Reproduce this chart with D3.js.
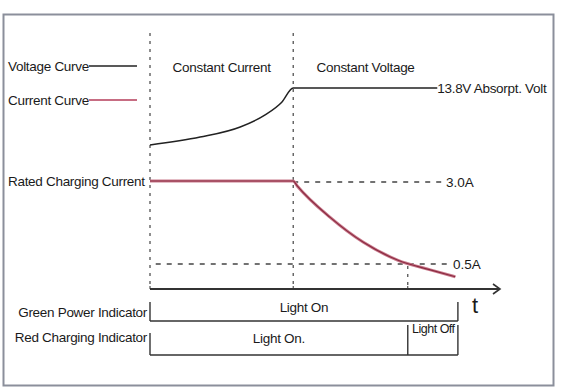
<!DOCTYPE html>
<html><head><meta charset="utf-8">
<script src="https://cdn.jsdelivr.net/npm/d3@7/dist/d3.min.js"></script>
<style>body{margin:0;background:#fff}svg{display:block}text{font-family:"Liberation Sans",Arial,sans-serif;fill:#1a1a1a}</style>
</head><body><svg id="c" width="563" height="390"></svg>
<script>
const phaseLabels = ["Constant Current", "Constant Voltage"];
const phaseBounds = [0, 5, 10.75];
const legendLabels = ["Voltage Curve", "Current Curve"];
const voltageT = [0, 1.75, 3.15, 4.02, 4.6, 5.0, 10.03];
const voltageV = [12.0, 12.25, 12.57, 12.95, 13.35, 13.8, 13.8];
const voltageLabel = "13.8V Absorpt. Volt";
const currentT = [0, 5.0, 5.14, 6.29, 7.45, 8.64, 9.79, 10.66];
const currentA = [3.0, 3.0, 2.85, 1.89, 1.13, 0.59, 0.29, 0.08];
const ratedLabel = "Rated Charging Current";
const refLabels = ["3.0A", "0.5A"];
const refValues = [3.0, 0.5];
const refStart = [5, 0.2];
const indicatorNames = ["Green Power Indicator", "Red Charging Indicator"];
const greenSegStart = [0];
const greenSegEnd = [10.75];
const greenSegLabel = ["Light On"];
const redSegStart = [0, 9];
const redSegEnd = [9, 10.75];
const redSegLabel = ["Light On.", "Light Off"];
const ticksT = [0, 5, 9];

const svg = d3.select("#c");
const x = d3.scaleLinear().domain([0, 12.22]).range([150, 500]);
const yV = d3.scaleLinear().domain([12.0, 13.8]).range([145, 88]);
const yI = d3.scaleLinear().domain([0.5, 3.0]).range([263, 181]);
const axisY = 289;
const ink = "#222", red = "#b53c5a", dashC = "#444";
const FS = 13.5, LS = -0.3;

svg.append("defs").append("clipPath").attr("id","clip")
  .append("rect").attr("x",4).attr("y",15).attr("width",548).attr("height",370);
const g = svg.append("g").attr("clip-path","url(#clip)");

// border
svg.append("rect").attr("x",3.5).attr("y",14.5).attr("width",550).attr("height",371)
  .attr("fill","none").attr("stroke","#8b8f9b").attr("stroke-width",2);

// vertical phase dashed lines
[0, 5].forEach(t => {
  g.append("line").attr("x1",x(t)).attr("x2",x(t)).attr("y1",33).attr("y2",axisY)
    .attr("stroke",dashC).attr("stroke-width",1.2).attr("stroke-dasharray","3,5");
});
g.append("line").attr("x1",x(9)).attr("x2",x(9)).attr("y1",266).attr("y2",axisY)
  .attr("stroke",dashC).attr("stroke-width",1.2).attr("stroke-dasharray","3,5");

// phase labels
phaseLabels.forEach((l,i) => {
  g.append("text").attr("x",(x(phaseBounds[i])+x(phaseBounds[i+1]))/2 - (i===1?10:0)).attr("y",72)
    .attr("text-anchor","middle").attr("font-size",FS).attr("letter-spacing",LS).text(l);
});

// legend
const legY = [66, 100];
legendLabels.forEach((l,i) => {
  const t = g.append("text").attr("x",8).attr("y",legY[i]+4.5).attr("font-size",FS).attr("letter-spacing",LS).text(l);
  const w = t.node().getComputedTextLength();
  g.append("line").attr("x1",8+w).attr("x2",137).attr("y1",legY[i]).attr("y2",legY[i])
    .attr("stroke", i===0?ink:red).attr("stroke-width",1.4);
});

// reference dashed lines
refValues.forEach((v,i) => {
  const xe = i===0 ? 443 : 450;
  g.append("line").attr("x1",x(refStart[i])).attr("x2",xe).attr("y1",yI(v)+1).attr("y2",yI(v)+1)
    .attr("stroke",dashC).attr("stroke-width",1.3).attr("stroke-dasharray","5,6");
  g.append("text").attr("x",xe+3).attr("y",yI(v)+5.5).attr("font-size",FS).text(refLabels[i]);
});

// voltage curve
const vData = voltageT.map((t,i)=>[t, voltageV[i]]);
g.append("path").datum(vData)
  .attr("d", d3.line().x(d=>x(d[0])).y(d=>yV(d[1])).curve(d3.curveMonotoneX))
  .attr("fill","none").attr("stroke",ink).attr("stroke-width",1.5);
g.append("text").attr("x",x(voltageT[voltageT.length-1])).attr("y",yV(13.8)+5)
  .attr("font-size",FS).attr("letter-spacing",LS).text(voltageLabel);

// current curve
const iData = currentT.map((t,i)=>[t, currentA[i]]);
g.append("path").datum(iData)
  .attr("d", d3.line().x(d=>x(d[0])).y(d=>yI(d[1])).curve(d3.curveMonotoneX))
  .attr("fill","none").attr("stroke","#c97a8c").attr("stroke-width",3);
g.append("path").datum(iData)
  .attr("d", d3.line().x(d=>x(d[0])).y(d=>yI(d[1])).curve(d3.curveMonotoneX))
  .attr("fill","none").attr("stroke","#8a2a40").attr("stroke-width",1.2);
g.append("text").attr("x",8).attr("y",yI(3.0)+4.5).attr("font-size",FS).attr("letter-spacing",LS).text(ratedLabel);

// time axis
g.append("line").attr("x1",x(0)).attr("x2",x(12.22)).attr("y1",axisY).attr("y2",axisY)
  .attr("stroke","#333").attr("stroke-width",2);
g.append("path").attr("d",`M${x(12.22)-7},${axisY-5}L${x(12.22)},${axisY}L${x(12.22)-7},${axisY+5}`)
  .attr("fill","none").attr("stroke","#333").attr("stroke-width",1.6);
ticksT.forEach(t => g.append("line").attr("x1",x(t)).attr("x2",x(t)).attr("y1",axisY-3).attr("y2",axisY)
  .attr("stroke","#333").attr("stroke-width",1));
g.append("text").attr("x",472).attr("y",313).attr("font-size",22).attr("font-family","DejaVu Serif")
  .attr("fill","#333").text("t");

// indicators
const rows = [
  {top:302, bot:321, starts:greenSegStart, ends:greenSegEnd, labels:greenSegLabel, ty:[307]},
  {top:333, bot:355, starts:redSegStart, ends:redSegEnd, labels:redSegLabel, ty:[338, 328]}
];
rows.forEach((r,ri) => {
  g.append("text").attr("x",147).attr("y",(ri===0?312:337)+4.5).attr("text-anchor","end")
    .attr("font-size",FS).attr("letter-spacing",LS).text(indicatorNames[ri]);
  g.append("line").attr("x1",x(r.starts[0])).attr("x2",x(r.ends[r.ends.length-1])).attr("y1",r.bot).attr("y2",r.bot)
    .attr("stroke","#333").attr("stroke-width",1.6);
  r.starts.forEach((s,k) => {
    const top = (ri===1 && k>0) ? 325 : r.top;
    g.append("line").attr("x1",x(s)).attr("x2",x(s)).attr("y1",top).attr("y2",r.bot)
      .attr("stroke","#333").attr("stroke-width",1.4);
    const small = (ri===1 && k>0);
    g.append("text").attr("x",(x(s)+x(r.ends[k]))/2 + (small?0.5:0)).attr("y",r.ty[k]+4.5).attr("text-anchor","middle")
      .attr("font-size",small?12.5:FS).attr("letter-spacing",small?-0.5:LS).text(r.labels[k]);
  });
  const xe = x(r.ends[r.ends.length-1]);
  g.append("line").attr("x1",xe).attr("x2",xe).attr("y1",ri===1?325:r.top).attr("y2",r.bot)
    .attr("stroke","#333").attr("stroke-width",1.4);
});
</script></body></html>
